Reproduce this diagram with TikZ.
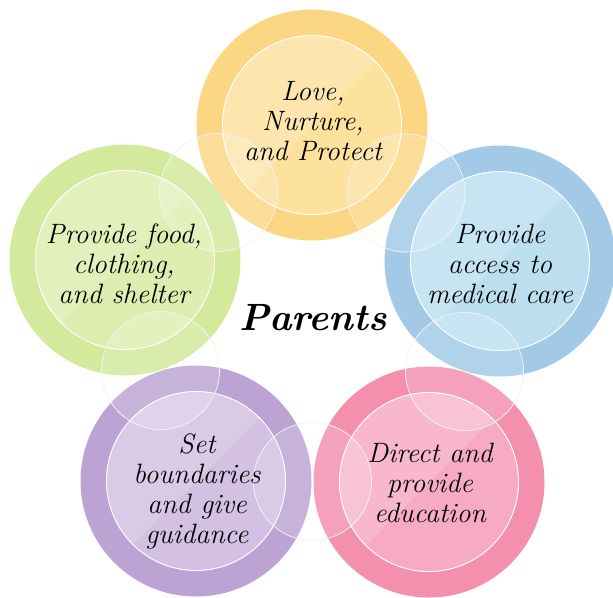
\documentclass[tikz,border=0pt]{standalone}
\usepackage{fontspec}
\usetikzlibrary{calc}
\newlength{\du}
\setlength{\du}{1pt}

\begin{document}
\begin{tikzpicture}[
  ring/.style={fill=#1},
  core/.style={fill=#1, draw=white, line width=0.7\du},
  gloss/.style={fill=white, fill opacity=0.16},
  joint/.style={fill=white, fill opacity=0.17, draw=black!12, line width=0.6\du},
  jointedge/.style={draw=white, draw opacity=0.75, line width=0.6\du},
  caption/.style={align=center, inner sep=0pt, outer sep=0pt,
    font=\itshape\fontsize{28}{30}\selectfont},
  title/.style={inner sep=0pt, outer sep=0pt,
    font=\bfseries\itshape\fontsize{38}{40}\selectfont}]
\pgftransformxscale{1.000000}
\pgftransformyscale{-1.000000}
\definecolor{ringyellow}{HTML}{FCD783}
\definecolor{coreyellow}{HTML}{FDE29E}
\definecolor{ringgreen}{HTML}{D3E99B}
\definecolor{coregreen}{HTML}{DFEEB0}
\definecolor{ringblue}{HTML}{A2CAE7}
\definecolor{coreblue}{HTML}{BCDFF0}
\definecolor{ringpurple}{HTML}{BCA3D3}
\definecolor{corepurple}{HTML}{D3C0E2}
\definecolor{ringpink}{HTML}{F58FAE}
\definecolor{corepink}{HTML}{F7AAC5}
\useasboundingbox (0\du,0\du) rectangle (613\du,597\du);
% love
\coordinate (love) at (312\du,125\du);
\fill[ring=ringyellow] (love) circle (115.5\du);
\fill[core=coreyellow] (love) circle (89.5\du);
\begin{scope}
\clip (love) circle (89.5\du);
\fill[gloss] ($(love)+(-200\du,200\du)$)--($(love)+(200\du,-200\du)$)--($(love)+(-200\du,-200\du)$)--cycle;
\end{scope}
\draw[core=coreyellow, fill=none] (love) circle (89.5\du);
% food
\coordinate (food) at (125\du,260\du);
\fill[ring=ringgreen] (food) circle (115.5\du);
\fill[core=coregreen] (food) circle (89.5\du);
\begin{scope}
\clip (food) circle (89.5\du);
\fill[gloss] ($(food)+(-200\du,200\du)$)--($(food)+(200\du,-200\du)$)--($(food)+(-200\du,-200\du)$)--cycle;
\end{scope}
\draw[core=coregreen, fill=none] (food) circle (89.5\du);
% medical
\coordinate (medical) at (500\du,261\du);
\fill[ring=ringblue] (medical) circle (115.5\du);
\fill[core=coreblue] (medical) circle (89.5\du);
\begin{scope}
\clip (medical) circle (89.5\du);
\fill[gloss] ($(medical)+(-200\du,200\du)$)--($(medical)+(200\du,-200\du)$)--($(medical)+(-200\du,-200\du)$)--cycle;
\end{scope}
\draw[core=coreblue, fill=none] (medical) circle (89.5\du);
% guidance
\coordinate (guidance) at (196\du,481\du);
\fill[ring=ringpurple] (guidance) circle (115.5\du);
\fill[core=corepurple] (guidance) circle (89.5\du);
\begin{scope}
\clip (guidance) circle (89.5\du);
\fill[gloss] ($(guidance)+(-200\du,200\du)$)--($(guidance)+(200\du,-200\du)$)--($(guidance)+(-200\du,-200\du)$)--cycle;
\end{scope}
\draw[core=corepurple, fill=none] (guidance) circle (89.5\du);
% education
\coordinate (education) at (429\du,482\du);
\fill[ring=ringpink] (education) circle (115.5\du);
\fill[core=corepink] (education) circle (89.5\du);
\begin{scope}
\clip (education) circle (89.5\du);
\fill[gloss] ($(education)+(-200\du,200\du)$)--($(education)+(200\du,-200\du)$)--($(education)+(-200\du,-200\du)$)--cycle;
\end{scope}
\draw[core=corepink, fill=none] (education) circle (89.5\du);
% joints
\filldraw[joint] ($(love)!0.5!(food)$) circle (59\du);
\draw[jointedge] ($(love)!0.5!(food)$) circle (59\du);
\filldraw[joint] ($(love)!0.5!(medical)$) circle (59\du);
\draw[jointedge] ($(love)!0.5!(medical)$) circle (59\du);
\filldraw[joint] ($(food)!0.5!(guidance)$) circle (59\du);
\draw[jointedge] ($(food)!0.5!(guidance)$) circle (59\du);
\filldraw[joint] ($(medical)!0.5!(education)$) circle (59\du);
\draw[jointedge] ($(medical)!0.5!(education)$) circle (59\du);
\filldraw[joint] ($(guidance)!0.5!(education)$) circle (59\du);
\draw[jointedge] ($(guidance)!0.5!(education)$) circle (59\du);
% setfont left to latex
\node[caption] (lovetext) at (313\du,121\du) {Love,\\Nurture,\\and Protect};
\node[caption] (foodtext) at (124\du,264\du) {Provide food,\\clothing,\\and shelter};
\node[caption] (medicaltext) at (500\du,264\du) {Provide\\access to\\medical care};
\node[caption] (guidancetext) at (197\du,491\du) {Set\\boundaries\\and give\\guidance};
\node[caption] (educationtext) at (430\du,483\du) {Direct and\\provide\\education};
\node[title] (parents) at (313\du,318\du) {Parents};
\end{tikzpicture}
\end{document}
